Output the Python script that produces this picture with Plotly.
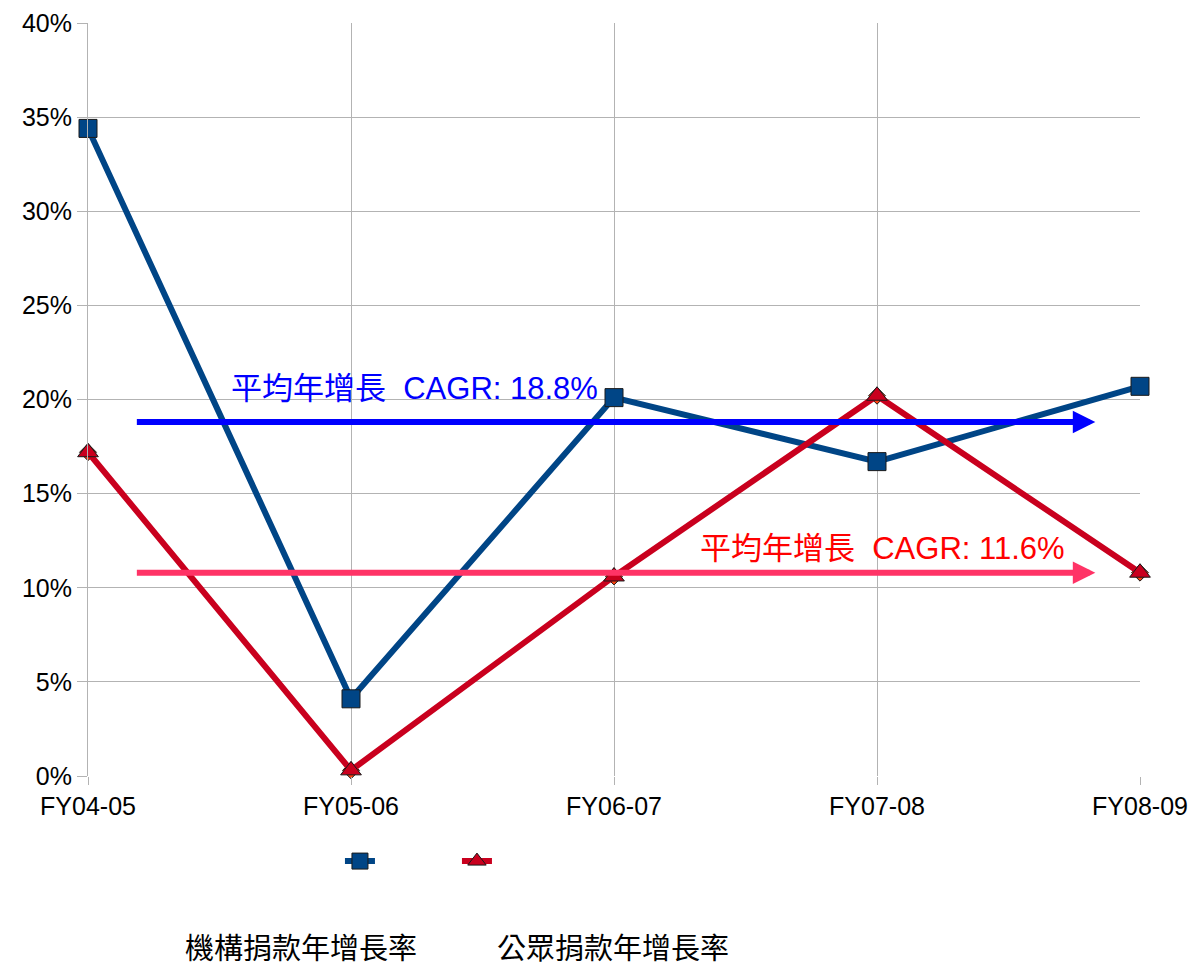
import plotly.graph_objects as go

categories = ["FY04-05", "FY05-06", "FY06-07", "FY07-08", "FY08-09"]
institutional = [34.4, 4.1, 20.1, 16.7, 20.7]
public = [17.2, 0.3, 10.6, 20.2, 10.8]
series_names = ["機構捐款年增長率", "公眾捐款年增長率"]
cagr_labels = ["平均年增長  CAGR: 18.8%", "平均年增長  CAGR: 11.6%"]
cagr_levels = [18.8, 10.8]
y_ticks = [0, 5, 10, 15, 20, 25, 30, 35, 40]

FONT = "Liberation Sans, Arial, Noto Sans CJK TC, sans-serif"
BLUE = "#004586"
RED = "#C9001E"
xi = list(range(len(categories)))

fig = go.Figure()
fig.add_trace(go.Scatter(
    x=xi, y=institutional, mode="lines+markers", name=" ", cliponaxis=False,
    line=dict(color=BLUE, width=6),
    marker=dict(symbol="square", size=18, color=BLUE, line=dict(color="#1a1a1a", width=1)),
))
# faint orange diamonds peeking behind the triangles
fig.add_trace(go.Scatter(
    x=xi, y=public, mode="markers", showlegend=False, cliponaxis=False, hoverinfo="skip",
    marker=dict(symbol="diamond", size=13, color="#FF420E", line=dict(color="#1a1a1a", width=1)),
))
fig.add_trace(go.Scatter(
    x=xi, y=public, mode="lines+markers", name=" ", cliponaxis=False,
    line=dict(color=RED, width=6),
    marker=dict(symbol="triangle-up", size=18, color=RED, line=dict(color="#1a1a1a", width=1)),
))

# CAGR arrows
arrow_cols = ["#0000FF", "#FF3366"]
text_cols = ["#0000FF", "#FF0000"]
text_x = [1.243, 3.02]
text_y = [20.56, 12.06]
for lvl, col, tcol, lab, tx, ty in zip(cagr_levels, arrow_cols, text_cols, cagr_labels, text_x, text_y):
    fig.add_annotation(x=3.83, y=lvl, ax=0.18, ay=lvl, xref="x", yref="y",
                       axref="x", ayref="y", showarrow=True, arrowhead=2,
                       arrowsize=0.75, arrowwidth=6, arrowcolor=col, text="")
    fig.add_annotation(x=tx, y=ty, xref="x", yref="y", yanchor="middle",
                       xanchor="center", showarrow=False, text=lab,
                       font=dict(family=FONT, size=31, color=tcol))

# legend texts placed below
for name, px in zip(series_names, [0.202, 0.499]):
    fig.add_annotation(x=px, y=-0.23, xref="paper", yref="paper", text=name,
                       showarrow=False, xanchor="center", yanchor="middle",
                       font=dict(family=FONT, size=29, color="black"))

fig.update_layout(
    width=1192, height=967,
    margin=dict(l=88, r=52, t=23, b=191, autoexpand=False),
    paper_bgcolor="white", plot_bgcolor="white",
    font=dict(family=FONT, size=25, color="black"),
    showlegend=True,
    legend=dict(orientation="h", x=0.2395, y=-0.113, xanchor="left", yanchor="middle",
                entrywidth=72, entrywidthmode="pixels", font=dict(size=20),
                bgcolor="rgba(0,0,0,0)"),
    xaxis=dict(
        tickmode="array", tickvals=xi, ticktext=categories, range=[0, 4],
        showgrid=True, gridcolor="#b3b3b3", gridwidth=1,
        showline=False, zeroline=False, automargin=False,
        ticks="outside", ticklen=8, tickcolor="#b3b3b3",
        tickfont=dict(family=FONT, size=25),
    ),
    yaxis=dict(
        range=[0, 40], tickvals=y_ticks, ticktext=[f"{v}%" for v in y_ticks],
        showgrid=True, gridcolor="#b3b3b3", gridwidth=1,
        showline=True, linecolor="#b3b3b3", linewidth=1, automargin=False,
        zeroline=False, ticks="outside", ticklen=10, tickcolor="#b3b3b3",
        tickfont=dict(family=FONT, size=25),
    ),
)

fig.write_html("out.html", config={"displayModeBar": False},
               post_script="document.body.style.margin='0';document.body.style.overflow='hidden';")
